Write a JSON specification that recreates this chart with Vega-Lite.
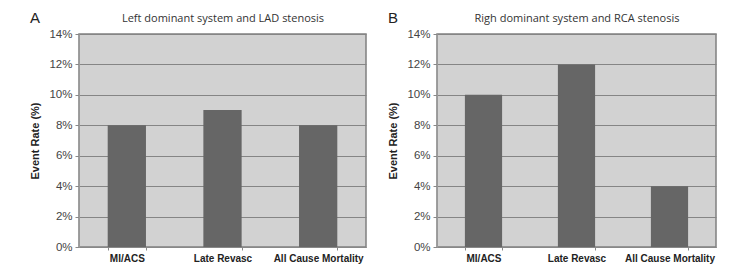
{
  "$schema": "https://vega.github.io/schema/vega-lite/v6.json",
  "background": "white",
  "padding": {"left": 29, "top": 10, "right": 5, "bottom": 5},
  "datasets": {
    "rates": [
      {"panel": "A", "outcome": "MI/ACS", "rate": 8},
      {"panel": "A", "outcome": "Late Revasc", "rate": 9},
      {"panel": "A", "outcome": "All Cause Mortality", "rate": 8},
      {"panel": "B", "outcome": "MI/ACS", "rate": 10},
      {"panel": "B", "outcome": "Late Revasc", "rate": 12},
      {"panel": "B", "outcome": "All Cause Mortality", "rate": 4}
    ]
  },
  "config": {
    "font": "Liberation Sans",
    "view": {"fill": "#d2d2d2", "stroke": "#808080", "strokeWidth": 1.5},
    "title": {"anchor": "start", "frame": "bounds", "fontSize": 15, "fontWeight": "normal", "color": "#222222", "offset": -14}
  },
  "spacing": 20,
  "hconcat": [
    {
      "width": 287,
      "height": 213,
      "title": {"text": "A"},
      "data": {"name": "rates"},
      "transform": [{"filter": "datum.panel == 'A'"}],
      "layer": [
        {
          "mark": {"type": "bar", "color": "#666666"},
          "encoding": {
            "x": {
              "field": "outcome", "type": "nominal", "sort": null,
              "scale": {"paddingInner": 0.6, "paddingOuter": 0.3},
              "axis": {"orient": "bottom", "title": null, "labelAngle": 0, "tickBand": "extent", "grid": false,
                       "labelFontWeight": "bold", "labelFontSize": 10, "labelColor": "#222222", "labelPadding": 3,
                       "tickSize": 3, "tickColor": "#888888", "domainColor": "#888888"}
            },
            "y": {
              "field": "rate", "type": "quantitative",
              "scale": {"domain": [0, 14]},
              "axis": {"values": [0, 2, 4, 6, 8, 10, 12, 14], "labelExpr": "datum.value + '%'",
                       "title": "Event Rate (%)", "titleFontSize": 11, "titleFontWeight": "bold", "titleColor": "#222222", "titlePadding": 8,
                       "labelFontSize": 11.5, "labelColor": "#444444", "labelPadding": 3, "tickSize": 4, "tickColor": "#888888",
                       "domainColor": "#999999", "grid": true, "gridColor": "#858585"}
            }
          }
        },
        {
          "mark": {"type": "bar", "opacity": 0},
          "encoding": {
            "x": {
              "field": "outcome", "type": "nominal", "sort": null,
              "axis": {"orient": "top", "title": "Left dominant system and LAD stenosis", "labels": false, "ticks": false, "domain": false, "grid": false,
                       "titleFont": "Open Sans", "titleFontSize": 11, "titleFontWeight": "normal", "titleColor": "#333333", "titlePadding": 11}
            }
          }
        }
      ],
      "resolve": {"axis": {"x": "independent"}}
    },
    {
      "width": 279,
      "height": 213,
      "title": {"text": "B"},
      "data": {"name": "rates"},
      "transform": [{"filter": "datum.panel == 'B'"}],
      "layer": [
        {
          "mark": {"type": "bar", "color": "#666666"},
          "encoding": {
            "x": {
              "field": "outcome", "type": "nominal", "sort": null,
              "scale": {"paddingInner": 0.6, "paddingOuter": 0.3},
              "axis": {"orient": "bottom", "title": null, "labelAngle": 0, "tickBand": "extent", "grid": false,
                       "labelFontWeight": "bold", "labelFontSize": 10, "labelColor": "#222222", "labelPadding": 3,
                       "tickSize": 3, "tickColor": "#888888", "domainColor": "#888888"}
            },
            "y": {
              "field": "rate", "type": "quantitative",
              "scale": {"domain": [0, 14]},
              "axis": {"values": [0, 2, 4, 6, 8, 10, 12, 14], "labelExpr": "datum.value + '%'",
                       "title": "Event Rate (%)", "titleFontSize": 11, "titleFontWeight": "bold", "titleColor": "#222222", "titlePadding": 8,
                       "labelFontSize": 11.5, "labelColor": "#444444", "labelPadding": 3, "tickSize": 4, "tickColor": "#888888",
                       "domainColor": "#999999", "grid": true, "gridColor": "#858585"}
            }
          }
        },
        {
          "mark": {"type": "bar", "opacity": 0},
          "encoding": {
            "x": {
              "field": "outcome", "type": "nominal", "sort": null,
              "axis": {"orient": "top", "title": "Righ dominant system and RCA stenosis", "labels": false, "ticks": false, "domain": false, "grid": false,
                       "titleFont": "Open Sans", "titleFontSize": 11, "titleFontWeight": "normal", "titleColor": "#333333", "titlePadding": 11}
            }
          }
        }
      ],
      "resolve": {"axis": {"x": "independent"}}
    }
  ]
}
